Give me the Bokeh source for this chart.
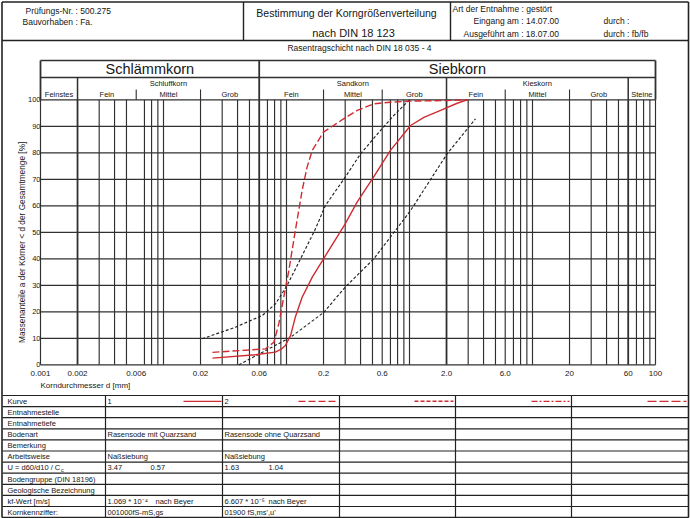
import math
from bokeh.plotting import figure
from bokeh.models import Range1d, LinearScale
from bokeh.core.properties import value
from bokeh.embed import file_html
from bokeh.resources import INLINE

# ---------------- data ----------------
# Kurve 1: Rasensode mit Quarzsand (red, solid)
curve1_d = [0.025, 0.056, 0.081, 0.090, 0.098, 0.108, 0.118, 0.134, 0.162, 0.20, 0.30,
            0.375, 0.51, 0.70, 1.02, 1.31, 1.79, 2.44, 2.95]
curve1_p = [2.5, 3.8, 4.8, 5.8, 7.3, 11.1, 18.0, 25.5, 33.1, 40.0, 53.2,
            61.4, 70.8, 80.9, 90.3, 93.4, 96.0, 98.7, 100.0]
# Kurve 2: Rasensode ohne Quarzsand (red, dashed)
curve2_d = [0.025, 0.0675, 0.079, 0.0866, 0.095, 0.1045, 0.118, 0.134, 0.147, 0.162,
            0.20, 0.30, 0.376, 0.513, 0.70, 1.02, 2.0, 2.94]
curve2_p = [4.7, 6.0, 8.5, 15.5, 25.5, 35.6, 50.7, 65.8, 74.6, 80.9,
            87.8, 93.2, 96.0, 98.5, 99.1, 99.5, 99.7, 100.0]
# limit curves (black, dotted)
limit_fine_d = [0.0206, 0.0385, 0.0635, 0.0814, 0.101, 0.134, 0.172, 0.207, 0.30,
                0.40, 0.58, 0.746, 1.0]
limit_fine_p = [9.8, 14.2, 18.6, 23.0, 29.9, 41.2, 51.3, 60.1, 70.8,
                79.6, 88.4, 94.1, 100.0]
limit_coarse_d = [0.041, 0.108, 0.201, 0.30, 0.513, 1.02, 2.02, 3.44]
limit_coarse_p = [0.0, 10.4, 19.8, 29.3, 40.0, 58.2, 79.6, 92.8]

x_tick_values = [0.001, 0.002, 0.006, 0.02, 0.06, 0.2, 0.6, 2.0, 6.0, 20, 60, 100]
x_tick_labels = ["0.001", "0.002", "0.006", "0.02", "0.06", "0.2", "0.6", "2.0",
                 "6.0", "20", "60", "100"]
y_tick_values = [0, 10, 20, 30, 40, 50, 60, 70, 80, 90, 100]
y_tick_labels = [str(v) for v in y_tick_values]

# soil fractions
fraction_bounds = [0.001, 0.002, 0.006, 0.02, 0.06, 0.2, 0.6, 2.0, 6.0, 20, 60, 100]
fraction_names = ["Feinstes", "Fein", "Mittel", "Grob", "Fein", "Mittel", "Grob",
                  "Fein", "Mittel", "Grob", "Steine"]
group_names = ["Schluffkorn", "Sandkorn", "Kieskorn"]
group_bounds = [(0.002, 0.06), (0.06, 2.0), (2.0, 60)]
main_names = ["Schlämmkorn", "Siebkorn"]
main_bounds = [(0.001, 0.06), (0.06, 100)]
sub_ticks = [0.006, 0.02, 0.2, 0.6, 6.0, 20]
major_lines = [0.002, 0.06, 2.0, 60]

table_rows = ["Kurve", "Entnahmestelle", "Entnahmetiefe", "Bodenart", "Bemerkung",
              "Arbeitsweise", "U = d60/d10 / C", "Bodengruppe (DIN 18196)",
              "Geologische Bezeichnung", "kf-Wert  [m/s]", "Kornkennziffer:"]
col1_values = {0: "1", 3: "Rasensode mit Quarzsand", 5: "Naßsiebung", 6: "3.47",
               9: "1.069 * 10⁻⁴", 10: "001000fS-mS,gs"}
col2_values = {0: "2", 3: "Rasensode ohne Quarzsand", 5: "Naßsiebung", 6: "1.63",
               9: "6.607 * 10⁻⁵", 10: "01900  fS,ms',u'"}
col1_cc, col2_cc = "0.57", "1.04"
kf_method = "nach Beyer"

# ---------------- layout (pixels) ----------------
W, H = 690, 518
GX0, GX1 = 40.0, 655.0      # pixel x of 0.001 mm and 100 mm
GY0, GY100 = 364.3, 99.3    # pixel y of 0 % and 100 %
BAND_TOP, BAND_MID, SUB_TICK = 60.0, 77.0, 89.0
HEAD_BOT = 40.0
TABLE_TOP, ROW_H = 395.0, 11.1
COLS = [2.0, 105.0, 222.0, 339.0, 455.0, 571.0, 688.0]
INK = "#161616"
GRID = "#303030"
RED = "#cf2b30"
FONT = "Liberation Sans"

dec = (GX1 - GX0) / (math.log10(100) - math.log10(0.001))
x_lo = 10 ** (math.log10(0.001) - GX0 / dec)
x_hi = 10 ** (math.log10(100) + (W - GX1) / dec)
pp = (GY0 - GY100) / 100.0
y_hi = 100 + GY100 / pp
y_lo = -(H - GY0) / pp

p = figure(width=W, height=H, x_axis_type="log", x_range=Range1d(x_lo, x_hi),
           y_range=Range1d(y_lo, y_hi), x_axis_location=None, y_axis_location=None,
           min_border=0, toolbar_location=None, output_backend="svg",
           outline_line_color=None, background_fill_color="white",
           border_fill_color="white")
p.extra_x_ranges = {"px": Range1d(0, W)}
p.extra_y_ranges = {"px": Range1d(H, 0)}
p.extra_x_scales = {"px": LinearScale()}
p.extra_y_scales = {"px": LinearScale()}
for g in p.grid:
    g.visible = False


def txt(xs, ys, ss, size, align="left", baseline="middle", xr=None, yr=None,
        color=INK, angle=0.0):
    kw = {}
    if xr:
        kw["x_range_name"] = xr
    if yr:
        kw["y_range_name"] = yr
    p.text(x=list(xs), y=list(ys), text=list(ss), text_font=value(FONT),
           text_font_size=value(f"{size}px"), text_align=align,
           text_baseline=baseline, text_color=color, angle=angle, **kw)


def seg(x0, y0, x1, y1, width=1.0, color=GRID, dash="solid", xr=None, yr=None):
    kw = {}
    if xr:
        kw["x_range_name"] = xr
    if yr:
        kw["y_range_name"] = yr
    p.segment(x0=list(x0), y0=list(y0), x1=list(x1), y1=list(y1),
              line_color=color, line_width=width, line_dash=dash, **kw)


# ---------------- chart grid ----------------
grid_d = [m * 10.0 ** k for k in range(-3, 2) for m in range(1, 10)
          if not (m == 6 and k == -3)] + [100.0]
thin = [d for d in grid_d if not any(abs(d / b - 1) < 1e-6 for b in major_lines)]
seg(thin, [0] * len(thin), thin, [100] * len(thin), width=1.15)
seg(major_lines, [0] * 4, major_lines, [100] * 4, width=1.8)
seg([0.001] * len(y_tick_values), y_tick_values, [100] * len(y_tick_values),
    y_tick_values, width=1.3)

# band header above the grid
seg([0.001, 0.001], [BAND_TOP, BAND_MID], [100, 100], [BAND_TOP, BAND_MID],
    width=1.5, yr="px")
seg([0.001, 100, 0.06], [BAND_TOP] * 3, [0.001, 100, 0.06], [GY100] * 3,
    width=1.8, yr="px")
seg([0.002, 2.0, 60], [BAND_MID] * 3, [0.002, 2.0, 60], [GY100] * 3, width=1.5, yr="px")
seg(sub_ticks, [SUB_TICK] * len(sub_ticks), sub_ticks, [GY100] * len(sub_ticks),
    width=1.1, yr="px")

main_x = [math.sqrt(a * b) for a, b in main_bounds]
txt(main_x, [68.5] * 2, main_names, 14.5, align="center", yr="px")
grp_x = [math.sqrt(a * b) for a, b in group_bounds]
txt(grp_x, [82.5] * 3, group_names, 7.5, align="center", yr="px")
fr_x = [math.sqrt(fraction_bounds[i] * fraction_bounds[i + 1])
        for i in range(len(fraction_names))]
txt(fr_x, [94] * len(fr_x), fraction_names, 7.5, align="center", yr="px")

# tick labels
txt([GX0] * len(y_tick_values), y_tick_values, y_tick_labels, 7.5, align="right",
    baseline="alphabetic", xr="px")
txt(x_tick_values, [373] * len(x_tick_values), x_tick_labels, 8, align="center",
    yr="px")
txt([GX0], [385], ["Korndurchmesser d [mm]"], 8, xr="px", yr="px")
txt([21], [(GY0 + GY100) / 2 + 10], ["Massenanteile a der Körner < d der Gesamtmenge [%]"],
    8.3, align="center", xr="px", yr="px", angle=math.pi / 2)

# ---------------- curves ----------------
p.line(limit_fine_d, limit_fine_p, line_color="#222222", line_width=1.15, line_dash="3 2")
p.line(limit_coarse_d, limit_coarse_p, line_color="#222222", line_width=1.15,
       line_dash="3 2")
p.line(curve2_d, curve2_p, line_color=RED, line_width=1.4, line_dash="7 3")
p.line(curve1_d, curve1_p, line_color=RED, line_width=1.4)

# ---------------- header ----------------
seg([1.5, 1.5, 688, 1.5], [1.5, 1.5, 1.5, 517], [688, 1.5, 688, 688], [1.5, 517, 517, 517],
    width=1.6, color="#222", xr="px", yr="px")
seg([1.5, 243, 450], [HEAD_BOT, 1.5, 1.5], [688, 243, 450], [HEAD_BOT, HEAD_BOT, HEAD_BOT],
    width=1.4, color="#222", xr="px", yr="px")
txt([25, 22], [10, 21], ["Prüfungs-Nr. : 500.275", "Bauvorhaben : Fa."], 8.5,
    xr="px", yr="px")
txt([346], [12.5], ["Bestimmung der Korngrößenverteilung"], 10.5, align="center",
    xr="px", yr="px")
txt([353], [32.5], ["nach DIN 18 123"], 11, align="center", xr="px", yr="px")
txt([452, 473, 463, 603, 603], [8.5, 20.5, 33, 20.5, 33],
    ["Art der Entnahme : gestört", "Eingang am : 14.07.00", "Ausgeführt am : 18.07.00",
     "durch :", "durch : fb/fb"], 8.5, xr="px", yr="px")
txt([359], [47.5], ["Rasentragschicht nach DIN 18 035 - 4"], 8.5, align="center",
    xr="px", yr="px")

# ---------------- table ----------------
n_rows = len(table_rows)
row_y = [TABLE_TOP + i * ROW_H for i in range(n_rows + 1)]
seg([COLS[0]] * len(row_y), row_y, [COLS[-1]] * len(row_y), row_y, width=1.2,
    color="#222", xr="px", yr="px")
seg(COLS[1:-1], [TABLE_TOP] * 5, COLS[1:-1], [row_y[-1]] * 5, width=1.2, color="#222",
    xr="px", yr="px")
mid = [TABLE_TOP + (i + 0.5) * ROW_H + 0.3 for i in range(n_rows)]
txt([7] * n_rows, mid, table_rows, 7.5, xr="px", yr="px")
txt([60.5], [mid[6] + 2], ["c"], 5.5, xr="px", yr="px")
txt([107] * len(col1_values), [mid[i] for i in col1_values], list(col1_values.values()),
    7.5, xr="px", yr="px")
txt([224] * len(col2_values), [mid[i] for i in col2_values], list(col2_values.values()),
    7.5, xr="px", yr="px")
txt([150, 268, 155, 268], [mid[6], mid[6], mid[9], mid[9]],
    [col1_cc, col2_cc, kf_method, kf_method], 7.5, xr="px", yr="px")

# legend samples in the "Kurve" row
ky = mid[0]
seg([183], [ky], [221], [ky], width=1.4, color=RED, xr="px", yr="px")
seg([298], [ky], [337], [ky], width=1.4, color=RED, dash="7 3", xr="px", yr="px")
seg([414], [ky], [453], [ky], width=1.5, color=RED, dash="4 2", xr="px", yr="px")
seg([531], [ky], [569], [ky], width=1.4, color=RED, dash="6 2 2 2", xr="px", yr="px")
seg([647], [ky], [686], [ky], width=1.4, color=RED, dash="9 3", xr="px", yr="px")

open("out.html", "w").write(file_html(p, INLINE))
